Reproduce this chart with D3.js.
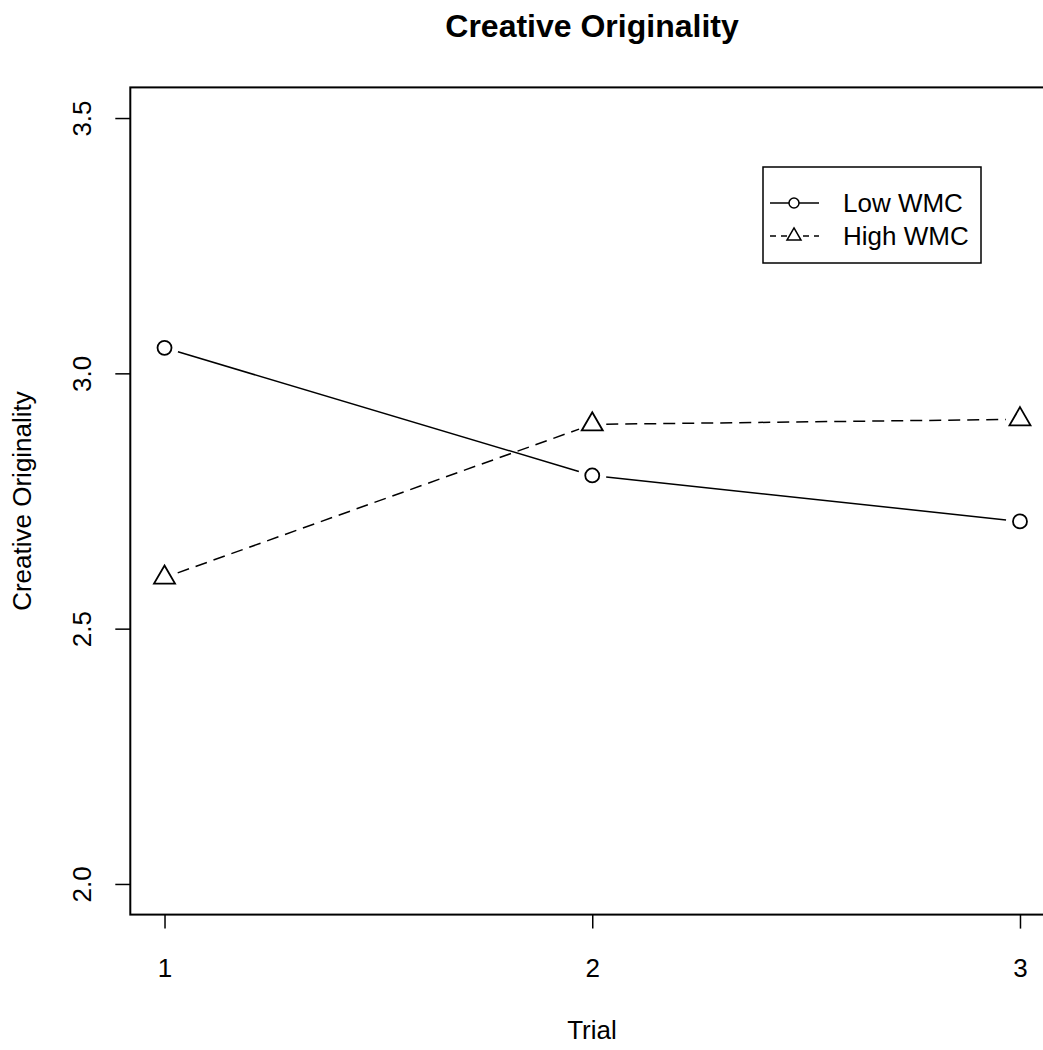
<!DOCTYPE html>
<html>
<head>
<meta charset="utf-8">
<script src="https://cdn.jsdelivr.net/npm/d3@7"></script>
<style>
  body { margin: 0; background: #fff; }
  text { font-family: "Liberation Sans", Arial, sans-serif; fill: #000; }
</style>
</head>
<body>
<script>
//chart data
var trials = [1, 2, 3];
var lowWMC = [3.05, 2.80, 2.71];
var highWMC = [2.60, 2.90, 2.91];
var yTicks = [2.0, 2.5, 3.0, 3.5];
var seriesNames = ["Low WMC", "High WMC"];

var w = 1043, h = 1050;

window.onload = function(){

    var svg = d3.select("body")
        .append("svg")
        .attr("width", w)
        .attr("height", h);

    //scales (R style 4% padding around data range)
    var x = d3.scaleLinear().domain([0.92, 3.08]).range([130.3, 1054.2]);
    var y = d3.scaleLinear().domain([1.94, 3.56]).range([914.6, 87.4]);

    //title
    svg.append("text")
        .attr("x", 592)
        .attr("y", 37)
        .attr("text-anchor", "middle")
        .style("font-size", "32px")
        .style("font-weight", "bold")
        .text("Creative Originality");

    //x axis
    var xAxis = svg.append("g")
        .attr("transform", "translate(0," + y.range()[0] + ")")
        .call(d3.axisBottom(x).tickValues(trials).tickFormat(d3.format("d")).tickSize(14));
    xAxis.select(".domain").remove();
    xAxis.selectAll("line").attr("stroke", "#000").attr("stroke-width", 1.5);
    xAxis.selectAll("text").style("font-size", "26px").attr("font-family", null).attr("dy", null).attr("y", 62);

    //y axis
    var yAxis = svg.append("g")
        .attr("transform", "translate(" + x.range()[0] + ",0)")
        .call(d3.axisLeft(y).tickValues(yTicks).tickFormat(d3.format(".1f")).tickSize(15));
    yAxis.select(".domain").remove();
    yAxis.selectAll("line").attr("stroke", "#000").attr("stroke-width", 1.5);
    yAxis.selectAll("text")
        .style("font-size", "26px")
        .attr("font-family", null)
        .attr("x", null).attr("dy", null)
        .attr("text-anchor", "middle")
        .attr("transform", "translate(-48,0) rotate(-90) translate(0,9)");

    //axis titles
    svg.append("text")
        .attr("x", 592)
        .attr("y", 1039)
        .attr("text-anchor", "middle")
        .style("font-size", "26px")
        .text("Trial");

    svg.append("text")
        .attr("transform", "translate(31,501) rotate(-90)")
        .attr("text-anchor", "middle")
        .style("font-size", "26px")
        .text("Creative Originality");

    //plot box
    svg.append("rect")
        .attr("x", x.range()[0])
        .attr("y", y.range()[1])
        .attr("width", x.range()[1] - x.range()[0])
        .attr("height", y.range()[0] - y.range()[1])
        .attr("fill", "none")
        .attr("stroke", "#000")
        .attr("stroke-width", 2);

    //type "b" lines: segments with gaps around the points
    var gap = 14;
    function segments(vals){
        var segs = [];
        for (var i = 0; i < vals.length - 1; i++){
            var x1 = x(trials[i]), y1 = y(vals[i]), x2 = x(trials[i+1]), y2 = y(vals[i+1]);
            var len = Math.sqrt((x2-x1)*(x2-x1) + (y2-y1)*(y2-y1));
            var ux = (x2-x1)/len, uy = (y2-y1)/len;
            segs.push([x1 + ux*gap, y1 + uy*gap, x2 - ux*gap, y2 - uy*gap]);
        }
        return segs;
    }

    function triPath(cx, cy, xc){
        var r = 1.555 * xc, hw = 1.347 * xc, b = r / 2;
        return "M" + cx + "," + (cy - r) + "L" + (cx + hw) + "," + (cy + b) + "L" + (cx - hw) + "," + (cy + b) + "Z";
    }

    svg.selectAll(".lowSeg")
        .data(segments(lowWMC))
        .enter().append("line")
        .attr("class", "lowSeg")
        .attr("x1", function(d){ return d[0]; })
        .attr("y1", function(d){ return d[1]; })
        .attr("x2", function(d){ return d[2]; })
        .attr("y2", function(d){ return d[3]; })
        .attr("stroke", "#000")
        .attr("stroke-width", 1.5);

    svg.selectAll(".highSeg")
        .data(segments(highWMC))
        .enter().append("line")
        .attr("class", "highSeg")
        .attr("x1", function(d){ return d[0]; })
        .attr("y1", function(d){ return d[1]; })
        .attr("x2", function(d){ return d[2]; })
        .attr("y2", function(d){ return d[3]; })
        .attr("stroke", "#000")
        .attr("stroke-width", 1.5)
        .attr("stroke-dasharray", "12,7");

    svg.selectAll(".lowPt")
        .data(lowWMC)
        .enter().append("circle")
        .attr("class", "lowPt")
        .attr("cx", function(d, i){ return x(trials[i]); })
        .attr("cy", function(d){ return y(d); })
        .attr("r", 7)
        .attr("fill", "none")
        .attr("stroke", "#000")
        .attr("stroke-width", 1.8);

    svg.selectAll(".highPt")
        .data(highWMC)
        .enter().append("path")
        .attr("class", "highPt")
        .attr("d", function(d, i){ return triPath(x(trials[i]), y(d), 7.8); })
        .attr("fill", "none")
        .attr("stroke", "#000")
        .attr("stroke-width", 1.8);

    //legend
    var legend = svg.append("g").attr("class", "legend");
    legend.append("rect")
        .attr("x", 763).attr("y", 167)
        .attr("width", 218).attr("height", 96)
        .attr("fill", "#fff")
        .attr("stroke", "#000")
        .attr("stroke-width", 1.5);

    var rows = [203, 236];
    legend.append("line")
        .attr("x1", 770).attr("x2", 819)
        .attr("y1", rows[0]).attr("y2", rows[0])
        .attr("stroke", "#000").attr("stroke-width", 1.5);
    legend.append("circle")
        .attr("cx", 794).attr("cy", rows[0]).attr("r", 5)
        .attr("fill", "#fff").attr("stroke", "#000").attr("stroke-width", 1.5);

    legend.append("line")
        .attr("x1", 770).attr("x2", 819)
        .attr("y1", rows[1]).attr("y2", rows[1])
        .attr("stroke", "#000").attr("stroke-width", 1.5)
        .attr("stroke-dasharray", "6,5");
    legend.append("path")
        .attr("d", triPath(794, rows[1], 5.2))
        .attr("fill", "#fff").attr("stroke", "#000").attr("stroke-width", 1.5);

    legend.selectAll(".legText")
        .data(seriesNames)
        .enter().append("text")
        .attr("class", "legText")
        .attr("x", 843)
        .attr("y", function(d, i){ return rows[i] + 9; })
        .style("font-size", "26px")
        .text(function(d){ return d; });
};
</script>
</body>
</html>
